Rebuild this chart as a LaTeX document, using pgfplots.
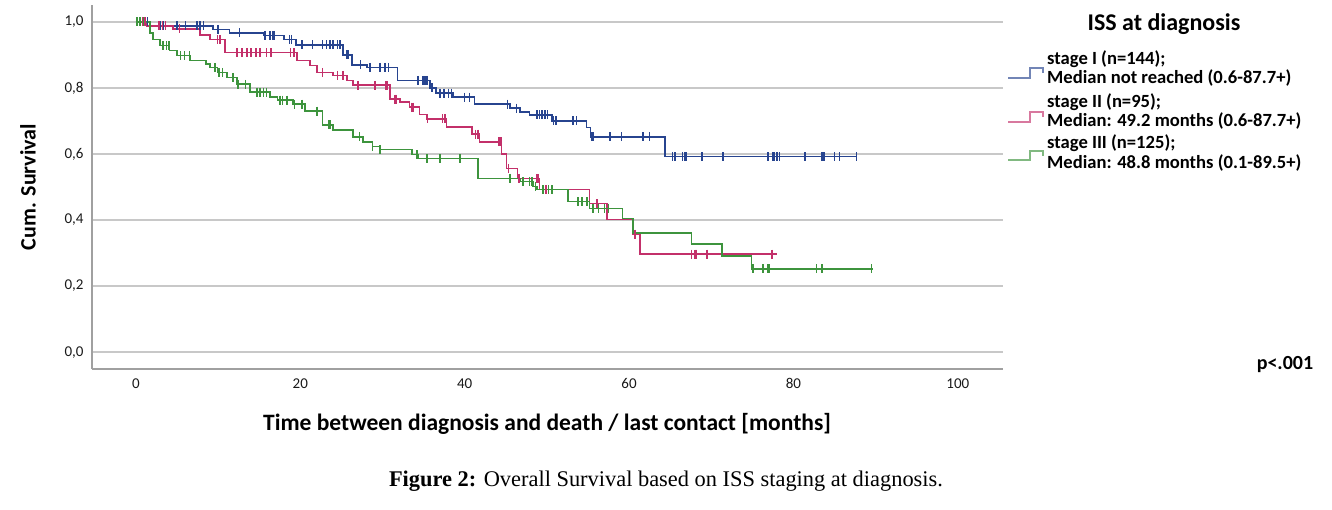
\documentclass[border=0pt]{standalone}
\usepackage{pgfplots}
\pgfplotsset{compat=1.18}
\usepackage{fontspec}
\setmainfont{Carlito}
\newfontfamily\capfont{Liberation Serif}
\definecolor{sI}{HTML}{27448F}
\definecolor{sII}{HTML}{C3306A}
\definecolor{sIII}{HTML}{3D943D}
\definecolor{gridc}{HTML}{C8C8C8}
\definecolor{axc}{HTML}{A0A0A0}

\begin{document}
\begin{tikzpicture}[x=1pt,y=1pt]
\useasboundingbox (0pt,0pt) rectangle (1332pt,510pt);
\begin{axis}[
  at={(92pt,141pt)}, anchor=south west,
  scale only axis, width=911pt, height=364pt,
  xmin=-5.35, xmax=105.5, ymin=-0.051, ymax=1.051,
  separate axis lines,
  axis x line*=bottom, axis y line*=left,
  x axis line style={-, draw=axc, line width=2pt},
  y axis line style={-, draw=axc, line width=1.5pt},
  major tick length=0pt,
  xtick={0,20,40,60,80,100},
  ytick={0,0.2,0.4,0.6,0.8,1},
  ymajorgrids, grid style={gridc, line width=1.5pt},
  /pgf/number format/assume math mode=true,
  yticklabel style={/pgf/number format/fixed, /pgf/number format/fixed zerofill, /pgf/number format/precision=1, /pgf/number format/use comma, xshift=-5pt},
  ticklabel style={font=\fontsize{15}{17}\selectfont, text=black!90},
  xticklabel style={yshift=-6pt},
  clip=false,
]
% stage I
\addplot[const plot, sI, line width=1.6pt] table {
0 1.000
1.7 0.988
9.4 0.977
11.4 0.967
15.5 0.959
18.0 0.947
19.5 0.930
25.2 0.900
26.3 0.870
28.1 0.862
31.8 0.823
35.8 0.800
36.5 0.784
38.6 0.772
41.2 0.751
45.5 0.739
46.7 0.727
47.9 0.718
50.6 0.700
54.8 0.680
55.3 0.652
64.4 0.592
87.7 0.592
};
\addplot[only marks, mark=|, mark size=4.5pt, sI, mark options={line width=1.5pt}] table {
0.5 1.000
1.0 1.000
1.4 1.000
3.0 0.988
3.3 0.988
5.0 0.988
6.0 0.988
7.4 0.988
7.8 0.988
8.2 0.988
10.0 0.977
12.6 0.967
15.7 0.959
16.3 0.959
16.6 0.959
16.8 0.959
18.7 0.947
18.9 0.947
20.2 0.930
21.5 0.930
22.7 0.930
23.2 0.930
23.6 0.930
24.0 0.930
24.5 0.930
24.8 0.930
25.6 0.900
25.8 0.900
27.3 0.870
28.5 0.862
29.7 0.862
30.3 0.862
30.7 0.862
34.3 0.823
34.9 0.823
35.1 0.823
35.3 0.823
35.5 0.823
36.0 0.800
37.0 0.784
37.5 0.784
38.0 0.784
38.4 0.784
40.0 0.772
40.6 0.772
45.2 0.751
46.3 0.739
48.8 0.718
49.1 0.718
49.4 0.718
49.8 0.718
50.1 0.718
50.8 0.700
51.1 0.700
53.2 0.700
53.6 0.700
55.5 0.652
55.7 0.652
57.7 0.652
59.1 0.652
61.7 0.652
62.5 0.652
65.3 0.592
65.6 0.592
66.5 0.592
66.8 0.592
67.0 0.592
68.9 0.592
71.4 0.592
76.9 0.592
77.5 0.592
77.7 0.592
78.0 0.592
78.3 0.592
81.4 0.592
83.5 0.592
83.7 0.592
85.0 0.592
85.6 0.592
87.7 0.592
};
% stage II
\addplot[const plot, sII, line width=1.6pt] table {
0 1.000
1.3 0.988
4.5 0.979
7.8 0.961
9.0 0.946
10.8 0.907
19.6 0.883
21.2 0.868
22.0 0.847
24.0 0.838
25.7 0.823
26.4 0.808
30.9 0.766
32.1 0.757
33.3 0.742
34.5 0.720
35.4 0.706
37.8 0.682
40.9 0.660
41.8 0.637
44.5 0.600
45.1 0.556
46.4 0.526
49.1 0.492
55.2 0.450
57.3 0.402
60.5 0.357
61.3 0.297
78.0 0.297
};
\addplot[only marks, mark=|, mark size=4.5pt, sII, mark options={line width=1.5pt}] table {
0.8 1.000
1.1 1.000
2.8 0.988
3.2 0.988
3.6 0.988
5.3 0.979
9.9 0.946
10.2 0.946
12.3 0.907
12.9 0.907
13.5 0.907
14.0 0.907
14.6 0.907
15.1 0.907
15.9 0.907
16.4 0.907
18.8 0.907
19.2 0.907
22.7 0.847
24.5 0.838
25.2 0.838
27.0 0.808
29.1 0.808
30.4 0.808
30.6 0.808
31.5 0.766
31.7 0.766
33.5 0.742
33.7 0.742
35.5 0.706
37.3 0.706
37.6 0.706
41.3 0.660
41.6 0.660
44.2 0.637
44.4 0.637
45.3 0.556
46.6 0.526
48.8 0.526
49.0 0.526
49.5 0.492
49.9 0.492
50.7 0.492
56.1 0.450
60.7 0.357
67.6 0.297
68.0 0.297
68.2 0.297
69.5 0.297
77.4 0.297
};
% stage III
\addplot[const plot, sIII, line width=1.6pt] table {
0 1.000
1.7 0.967
2.1 0.946
2.9 0.928
4.1 0.913
5.0 0.898
6.6 0.883
8.5 0.872
9.0 0.862
9.9 0.847
11.1 0.832
12.3 0.811
13.9 0.787
16.3 0.772
17.2 0.763
19.1 0.751
20.6 0.730
22.7 0.688
24.0 0.673
26.4 0.652
27.6 0.637
28.8 0.622
29.7 0.613
33.6 0.598
34.3 0.586
41.6 0.526
46.7 0.517
48.3 0.502
48.8 0.492
52.6 0.456
55.2 0.435
59.2 0.405
60.5 0.360
67.6 0.327
71.3 0.291
74.9 0.252
89.7 0.252
};
\addplot[only marks, mark=|, mark size=4.5pt, sIII, mark options={line width=1.5pt}] table {
0.1 1.000
0.5 1.000
0.9 1.000
3.3 0.928
3.7 0.928
4.0 0.928
5.4 0.898
5.9 0.898
6.5 0.898
9.6 0.862
10.1 0.847
10.5 0.847
11.8 0.832
12.4 0.811
13.3 0.811
14.7 0.787
15.1 0.787
15.5 0.787
15.9 0.787
17.5 0.763
17.8 0.763
18.4 0.763
19.3 0.751
20.2 0.751
22.0 0.730
23.4 0.688
23.6 0.688
27.2 0.652
28.8 0.622
29.7 0.613
34.2 0.598
35.4 0.586
37.0 0.586
39.4 0.586
45.5 0.526
47.1 0.517
47.9 0.517
48.2 0.517
48.6 0.502
49.5 0.492
50.2 0.492
50.6 0.492
53.8 0.456
54.3 0.456
54.9 0.456
55.6 0.435
56.3 0.435
57.0 0.435
57.5 0.435
75.1 0.252
76.3 0.252
76.9 0.252
77.1 0.252
82.8 0.252
83.5 0.252
89.5 0.252
};
\end{axis}
% axis titles
\node[rotate=90, font=\bfseries\fontsize{22}{24}\selectfont] at (28pt,323pt) {Cum. Survival};
\node[font=\bfseries\fontsize{23.5}{26}\selectfont] at (547pt,86pt) {Time between diagnosis and death / last contact [months]};
% legend
\node[font=\bfseries\fontsize{24}{26}\selectfont] at (1164pt,486pt) {ISS at diagnosis};
\begin{scope}[line width=1.3pt]
\draw[sI!65] (1008pt,432pt) -- (1030pt,432pt) -- (1030pt,442pt) -- (1043pt,442pt) -- (1043pt,437pt);
\draw[sII!65] (1008pt,388pt) -- (1030pt,388pt) -- (1030pt,398pt) -- (1043pt,398pt) -- (1043pt,393pt);
\draw[sIII!65] (1008pt,350pt) -- (1030pt,350pt) -- (1030pt,359pt) -- (1043pt,359pt) -- (1043pt,354pt);
\end{scope}
\begin{scope}[every node/.style={anchor=west, inner sep=0pt, font=\bfseries\fontsize{18.6}{20}\selectfont}]
\node at (1047pt,451pt) {stage I (n=144);};
\node at (1047pt,432pt) {Median not reached (0.6-87.7+)};
\node at (1047pt,408pt) {stage II (n=95);};
\node at (1047pt,389pt) {Median: 49.2 months (0.6-87.7+)};
\node at (1047pt,367pt) {stage III (n=125);};
\node at (1047pt,347pt) {Median: 48.8 months (0.1-89.5+)};
\end{scope}
\node[font=\bfseries\fontsize{20}{22}\selectfont] at (1285pt,145pt) {p<.001};
% caption
\node[font=\capfont\fontsize{22.4}{24}\selectfont] at (666pt,29pt) {\textbf{Figure 2:} Overall Survival based on ISS staging at diagnosis.};
\end{tikzpicture}
\end{document}
